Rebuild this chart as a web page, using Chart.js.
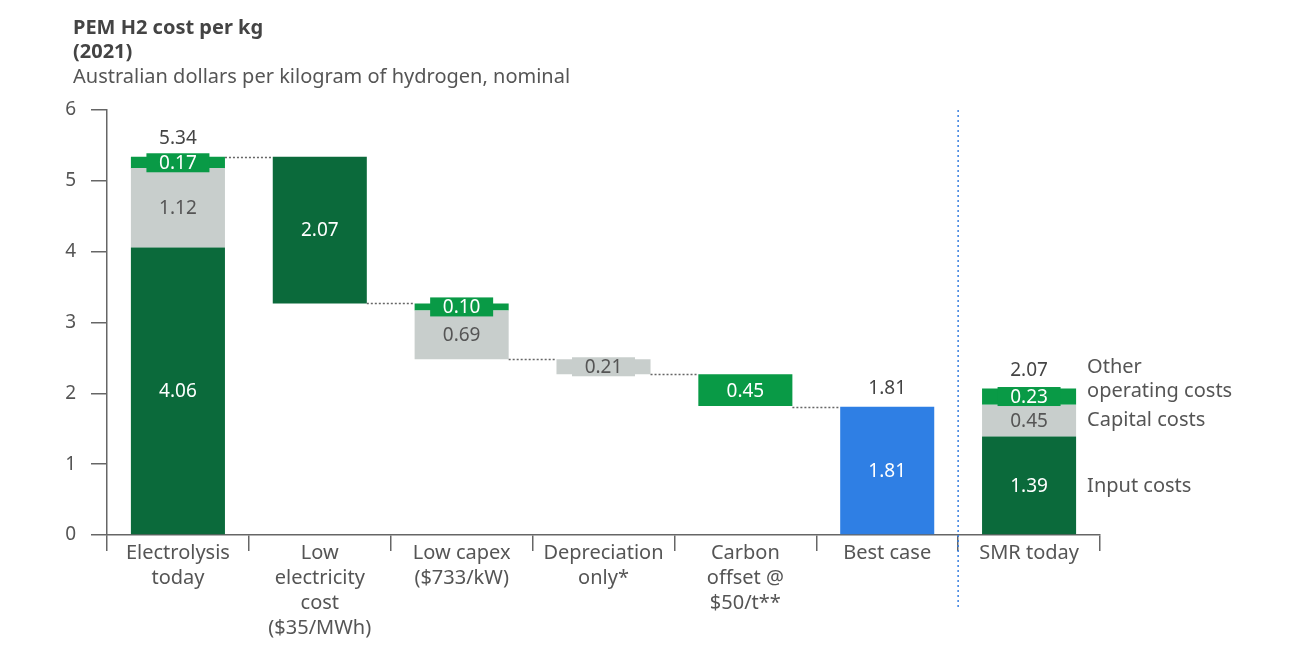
<!DOCTYPE html>
<html>
<head>
<meta charset="utf-8">
<script src="https://cdn.jsdelivr.net/npm/chart.js@4/dist/chart.umd.min.js"></script>
<style>
  html, body { margin: 0; padding: 0; background: #ffffff; }
  #wrap { width: 1300px; height: 650px; position: relative; }
</style>
</head>
<body>
<div id="wrap"><canvas id="c" width="1300" height="650"></canvas></div>
<script>
// ---- data ----
const categories = [
  ["Electrolysis", "today"],
  ["Low", "electricity", "cost", "($35/MWh)"],
  ["Low capex", "($733/kW)"],
  ["Depreciation", "only*"],
  ["Carbon", "offset @", "$50/t**"],
  ["Best case"],
  ["SMR today"]
];
const yTicks = [0, 1, 2, 3, 4, 5, 6];

const inputValues   = [4.06, 2.07, null, null, null, null, 1.39];
const inputBottoms  = [0,    3.27, null, null, null, null, 0];
const capitalValues  = [1.12, null, 0.69, 0.21, null, null, 0.45];
const capitalBottoms = [4.06, null, 2.48, 2.27, null, null, 1.39];
const otherValues   = [0.17, null, 0.10, null, 0.45, null, 0.23];
const otherBottoms  = [5.17, null, 3.17, null, 1.82, null, 1.84];
const bestValues    = [null, null, null, null, null, 1.81, null];
const bestBottoms   = [null, null, null, null, null, 0,    null];
const totals        = [5.34, null, null, null, null, 1.81, 2.07];
const connectorLevels = [5.34, 3.27, 2.48, 2.27, 1.81];

const titleLines = ["PEM H2 cost per kg", "(2021)"];
const subtitle = "Australian dollars per kilogram of hydrogen, nominal";
const legendLabels = { other: ["Other", "operating costs"], capital: "Capital costs", input: "Input costs" };

// ---- styles ----
const FONT = "'Noto Sans', 'DejaVu Sans', sans-serif";
const C_DARK = "#0b6a3b", C_GREY = "#c8cecc", C_GREEN = "#099a46", C_BLUE = "#2f7fe4";
const TEXT = "#555555";

function ranges(vals, bottoms) {
  return vals.map((v, i) => v == null ? null : [bottoms[i], +(bottoms[i] + v).toFixed(2)]);
}

const series = [
  { label: "Input costs", values: inputValues, bottoms: inputBottoms, color: C_DARK, text: "#ffffff" },
  { label: "Capital costs", values: capitalValues, bottoms: capitalBottoms, color: C_GREY, text: "#555555" },
  { label: "Other operating costs", values: otherValues, bottoms: otherBottoms, color: C_GREEN, text: "#ffffff" },
  { label: "Best case", values: bestValues, bottoms: bestBottoms, color: C_BLUE, text: "#ffffff" }
];

const overlay = {
  id: "overlay",
  afterDatasetsDraw(chart) {
    const { ctx, chartArea, scales } = chart;
    const xs = scales.x, ys = scales.y;
    const barAt = (i) => {
      for (let d = 0; d < chart.data.datasets.length; d++) {
        if (chart.data.datasets[d].data[i] != null) return chart.getDatasetMeta(d).data[i];
      }
      return null;
    };
    ctx.save();
    // connectors
    ctx.setLineDash([2, 2]);
    ctx.strokeStyle = "#666";
    ctx.lineWidth = 1.5;
    connectorLevels.forEach((v, i) => {
      const a = barAt(i), b = barAt(i + 1);
      if (!a || !b) return;
      const py = Math.round(ys.getPixelForValue(v)) + 0.5;
      ctx.beginPath();
      ctx.moveTo(a.x + a.width / 2, py);
      ctx.lineTo(b.x - b.width / 2, py);
      ctx.stroke();
    });
    // separator
    const sx = (xs.getPixelForValue(5) + xs.getPixelForValue(6)) / 2;
    ctx.strokeStyle = "#3a80e0";
    ctx.setLineDash([2, 3]);
    ctx.beginPath();
    ctx.moveTo(sx, chartArea.top);
    ctx.lineTo(sx, 610);
    ctx.stroke();
    ctx.setLineDash([]);

    // segment labels
    ctx.font = "19px " + FONT;
    ctx.textAlign = "center";
    ctx.textBaseline = "middle";
    series.forEach((s, d) => {
      const meta = chart.getDatasetMeta(d);
      s.values.forEach((v, i) => {
        if (v == null) return;
        const el = meta.data[i];
        const top = Math.min(el.y, el.base), bot = Math.max(el.y, el.base);
        const cy = (top + bot) / 2;
        if (bot - top < 20) {
          ctx.fillStyle = s.color;
          ctx.fillRect(el.x - 31.5, cy - 9.5, 63, 19);
        }
        ctx.fillStyle = s.text;
        ctx.fillText(v.toFixed(2), el.x, cy + 1);
      });
    });
    // totals
    ctx.fillStyle = "#444";
    totals.forEach((t, i) => {
      if (t == null) return;
      const el = barAt(i);
      ctx.fillText(t.toFixed(2), el.x, ys.getPixelForValue(t) - 18);
    });
    // right legend
    const smr = barAt(6);
    const lx = smr.x + smr.width / 2 + 11;
    ctx.textAlign = "left";
    ctx.fillStyle = TEXT;
    ctx.font = "20px " + FONT;
    const cIn = ys.getPixelForValue(inputBottoms[6] + inputValues[6] / 2);
    const cCap = ys.getPixelForValue(capitalBottoms[6] + capitalValues[6] / 2);
    const cOth = ys.getPixelForValue(otherBottoms[6] + otherValues[6] / 2);
    ctx.fillText(legendLabels.input, lx, cIn + 1);
    ctx.fillText(legendLabels.capital, lx, cCap);
    ctx.fillText(legendLabels.other[1], lx, cOth - 5);
    ctx.fillText(legendLabels.other[0], lx, cOth - 29);

    // title
    ctx.fillStyle = "#444";
    ctx.font = "bold 20px " + FONT;
    ctx.fillText(titleLines[0], 73, 28);
    ctx.fillText(titleLines[1], 73, 52);
    ctx.fillStyle = TEXT;
    ctx.font = "20px " + FONT;
    ctx.fillText(subtitle, 73, 77);
    ctx.restore();
  }
};

new Chart(document.getElementById("c"), {
  type: "bar",
  data: {
    labels: categories,
    datasets: series.map(s => ({
      label: s.label,
      data: ranges(s.values, s.bottoms),
      backgroundColor: s.color,
      borderWidth: 0,
      barPercentage: 0.663,
      categoryPercentage: 1,
      grouped: false
    }))
  },
  options: {
    responsive: false,
    animation: false,
    devicePixelRatio: 1,
    layout: { padding: { left: 0, top: 110, right: 200, bottom: 0 } },
    plugins: { legend: { display: false }, tooltip: { enabled: false }, title: { display: false } },
    scales: {
      x: {
        afterFit(scale) { scale.height = 115; },
        grid: { drawOnChartArea: false, drawTicks: true, tickLength: 16, color: "#666", lineWidth: 1.5, offset: true },
        border: { display: true, color: "#666", width: 1.5 },
        ticks: { color: TEXT, font: { family: FONT, size: 20, lineHeight: 1.25 }, padding: -10, maxRotation: 0, autoSkip: false }
      },
      y: {
        min: 0, max: 6,
        afterFit(scale) { scale.width = 107; },
        afterBuildTicks(scale) { scale.ticks = yTicks.map(v => ({ value: v })); },
        grid: { drawOnChartArea: false, drawTicks: true, tickLength: 16, color: "#666", lineWidth: 1.5 },
        border: { display: true, color: "#666", width: 1.5 },
        ticks: { color: TEXT, font: { family: FONT, size: 19 }, padding: 15 }
      }
    }
  },
  plugins: [overlay]
});
</script>
</body>
</html>
